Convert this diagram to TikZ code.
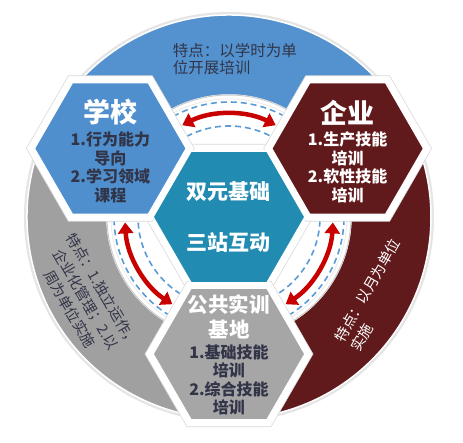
\documentclass[tikz,border=0pt]{standalone}
\usepackage{fontspec}
\newfontfamily\cjk{Noto Sans CJK SC}
\usetikzlibrary{shapes.geometric,arrows.meta}
\definecolor{bandblue}{RGB}{83,146,206}
\definecolor{schoolblue}{RGB}{79,143,205}
\definecolor{hubteal}{RGB}{33,139,178}
\definecolor{maroon}{RGB}{97,26,28}
\definecolor{basegray}{RGB}{166,166,166}
\definecolor{bandgray}{RGB}{160,160,160}
\definecolor{darktext}{RGB}{50,52,72}
\definecolor{arrowred}{RGB}{200,0,0}
\definecolor{dashblue}{RGB}{91,155,213}

\begin{document}
\begin{tikzpicture}[x=1pt,y=1pt,
  hexa/.style={regular polygon,regular polygon sides=6,minimum size=152pt,inner sep=0pt,draw=white,line width=1.5pt},
  hexbg/.style={regular polygon,regular polygon sides=6,minimum size=168pt,inner sep=0pt,fill=white,draw=black!15,line width=0.6pt},
  title/.style={font=\cjk\bfseries\fontsize{27}{30}\selectfont,text=white},
  body/.style={font=\cjk\bfseries\fontsize{16}{18.5}\selectfont,align=center},
  note/.style={font=\cjk\fontsize{14.5}{19}\selectfont},
  twoway/.style={draw=arrowred,line width=4.5pt,{Triangle[length=11pt,width=15pt]}-{Triangle[length=11pt,width=15pt]}},
  guide/.style={draw=dashblue,dash pattern=on 6pt off 4pt,line width=1.6pt}]
\useasboundingbox (-229,-225) rectangle (234,217);

% outer ring
\fill[black!10] (0,0) circle[radius=205];
\fill[bandblue,draw=white,line width=1.5pt] (30:202) arc[start angle=30,end angle=150,radius=202] -- (150:122) arc[start angle=150,end angle=30,radius=122] -- cycle;
\fill[bandgray,draw=white,line width=1.5pt] (150:202) arc[start angle=150,end angle=270,radius=202] -- (270:122) arc[start angle=270,end angle=150,radius=122] -- cycle;
\fill[maroon,draw=white,line width=1.5pt] (270:202) arc[start angle=270,end angle=390,radius=202] -- (30:122) arc[start angle=30,end angle=-90,radius=122] -- cycle;
\draw[fill=white,draw=black!20,line width=1pt] (0,0) circle[radius=122];
\draw[black!8,line width=0.8pt] (0,0) circle[radius=118];

% dashed guides and arrows
\foreach \m in {90,210,330}{
  \draw[guide] (\m+34:115) arc[start angle=\m+34,end angle=\m-34,radius=115];
  \draw[guide] (\m+34:91) arc[start angle=\m+34,end angle=\m-34,radius=91];
}
\coordinate (ts) at (117:103);
\coordinate (ls) at (183:104);
\coordinate (rs) at (303:104);
\draw[twoway] (ts) arc[start angle=117,end angle=63,radius=103];
\draw[twoway] (ls) arc[start angle=183,end angle=237,radius=104];
\draw[twoway] (rs) arc[start angle=303,end angle=357,radius=104];

% hexagons
\node[hexbg] (hubbg) at (0,0) {};
\node[hexbg] (schoolbg) at (150:137) {};
\node[hexbg] (firmbg) at (30:137) {};
\node[hexbg] (basebg) at (270:137) {};
\node[hexa,fill=hubteal] (hub) at (0,0) {};
\node[hexa,fill=schoolblue] (school) at (150:137) {};
\node[hexa,fill=maroon] (firm) at (30:137) {};
\node[hexa,fill=basegray] (base) at (270:137) {};

% texts
\node[font=\cjk\bfseries\fontsize{21}{51}\selectfont,text=white,align=center] (hubT) at (hub.center) {双元基础\\三站互动};
\node[title] (schoolT) at ([yshift=36]school.center) {学校};
\node[body,text=darktext] (schoolB) at ([yshift=-19]school.center) {1.行为能力\\导向\\2.学习领域\\课程};
\node[title] (firmT) at ([yshift=36]firm.center) {企业};
\node[body,text=white] (firmB) at ([yshift=-19]firm.center) {1.生产技能\\培训\\2.软性技能\\培训};
\node[font=\cjk\bfseries\fontsize{20.5}{25}\selectfont,text=white,align=center] (baseT) at ([yshift=37]base.center) {公共实训\\基地};
\node[body,text=darktext] (baseB) at ([yshift=-26]base.center) {1.基础技能\\培训\\2.综合技能\\培训};

\node[note,text=darktext,align=left,font=\cjk\fontsize{15.5}{17}\selectfont] (topN) at (6,158) {特点：以学时为单\\位开展培训};
\node[note,text=white,align=left,rotate=60] (rightN) at (-28:166) {特点：以月为单位\\实施};
\node[note,text=darktext,align=center,rotate=-60] (leftN) at (210:165) {特点：1.独立运作，\\企业化管理；2.以\\周为单位实施};
\end{tikzpicture}
\end{document}
